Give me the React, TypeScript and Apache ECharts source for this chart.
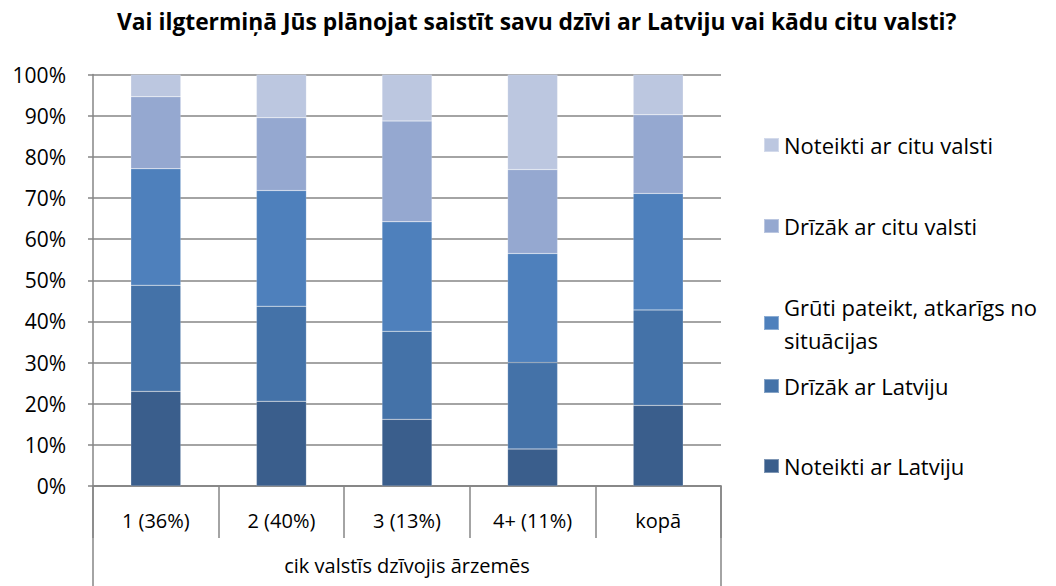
import React, { useEffect, useRef } from "react";
import * as echarts from "echarts";

const categories = ["1 (36%)", "2 (40%)", "3 (13%)", "4+ (11%)", "kopā"];
const groupLabel = ["cik valstīs dzīvojis ārzemēs"];
const seriesNames = [
  "Noteikti ar Latviju",
  "Drīzāk ar Latviju",
  "Grūti pateikt, atkarīgs no situācijas",
  "Drīzāk ar citu valsti",
  "Noteikti ar citu valsti",
];
const noteiktiLatviju = [23.0, 20.6, 16.2, 9.0, 19.6];
const drizakLatviju = [25.8, 23.1, 21.4, 21.0, 23.2];
const gruti = [28.3, 28.1, 26.6, 26.5, 28.3];
const drizakCitu = [17.5, 17.7, 24.5, 20.4, 19.1];
const noteiktiCitu = [5.4, 10.5, 11.3, 23.1, 9.8];
const colors = ["#3a5e8c", "#4472a8", "#4e80bc", "#95a8d0", "#bcc7e0"];
const legendLabels = [
  "Noteikti ar Latviju",
  "Drīzāk ar Latviju",
  "Grūti pateikt, atkarīgs no\nsituācijas",
  "Drīzāk ar citu valsti",
  "Noteikti ar citu valsti",
];
const legendCenters = [468, 388, 309, 228, 147];

const FONT = "'Open Sans', 'Noto Sans', sans-serif";

export default function App() {
  const ref = useRef<HTMLDivElement>(null);
  useEffect(() => {
    document.body.style.margin = "0";
    if (!ref.current) return;
    const chart = echarts.init(ref.current, null, { renderer: "svg" });
    const values = [noteiktiLatviju, drizakLatviju, gruti, drizakCitu, noteiktiCitu];
    const series = seriesNames.map((name, i) => ({
      name,
      type: "bar",
      stack: "total",
      data: values[i],
      barWidth: 50,
      itemStyle: { color: colors[i], borderColor: "rgba(255,255,255,0.35)", borderWidth: 0.5 },
    }));
    const legends = seriesNames.map((name, i) => {
      const twoLine = i === 2;
      return {
        data: [name],
        orient: "vertical",
        left: 758,
        top: twoLine ? legendCenters[i] - 40.5 : legendCenters[i] - 21,
        itemWidth: 15,
        itemHeight: 14,
        icon: "rect",
        formatter: () => legendLabels[i],
        textStyle: twoLine
          ? { fontFamily: FONT, fontSize: 22, color: "#000", lineHeight: 33, padding: [33, 0, 0, 0] }
          : { fontFamily: FONT, fontSize: 22, color: "#000", lineHeight: 28 },
        selectedMode: false,
      };
    });
    chart.setOption({
      animation: false,
      color: colors,
      title: {
        text: "Vai ilgtermiņā Jūs plānojat saistīt savu dzīvi ar Latviju vai kādu citu valsti?",
        left: 112,
        top: 5,
        textStyle: { fontFamily: FONT, fontSize: 22.8, fontWeight: "bold", color: "#000" },
      },
      legend: legends,
      grid: { left: 93, right: 335, top: 74.5, bottom: 100, containLabel: false },
      xAxis: [
        {
          type: "category",
          data: categories,
          position: "bottom",
          axisLine: { lineStyle: { color: "#868686", width: 1.5 } },
          axisTick: { show: true, length: 52, lineStyle: { color: "#868686", width: 1.5 } },
          axisLabel: { margin: 24, fontFamily: FONT, fontSize: 20, color: "#000" },
        },
        {
          type: "category",
          data: groupLabel,
          position: "bottom",
          axisLine: { lineStyle: { color: "#868686", width: 1.5 } },
          axisTick: { show: true, length: 110, lineStyle: { color: "#868686", width: 1.5 } },
          axisLabel: { margin: 69, fontFamily: FONT, fontSize: 20, color: "#000" },
        },
      ],
      yAxis: {
        type: "value",
        min: 0,
        max: 100,
        interval: 10,
        axisLine: { show: true, lineStyle: { color: "#868686", width: 1.5 } },
        axisTick: { show: true, length: 5, lineStyle: { color: "#868686", width: 1.5 } },
        splitLine: { lineStyle: { color: "#868686", width: 1.5 } },
        axisLabel: { formatter: "{value}%", margin: 27, fontFamily: FONT, fontSize: 21, color: "#000" },
      },
      series,
    });
    return () => chart.dispose();
  }, []);
  return <div ref={ref} style={{ width: 1056, height: 586 }} />;
}
